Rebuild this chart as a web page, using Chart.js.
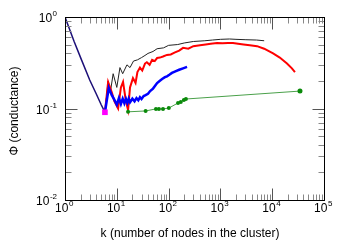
<!DOCTYPE html>
<html>
<head>
<meta charset="utf-8">
<script src="https://cdn.jsdelivr.net/npm/chart.js@4.4.1/dist/chart.umd.min.js"></script>
<style>
  body { margin: 0; background: #fff; }
  #wrap { width: 349px; height: 244px; }
</style>
</head>
<body>
<div id="wrap"><canvas id="chart" width="349" height="244"></canvas></div>
<script>
// Axis ticks (decades) and their exponent labels
const xTickValues = [1, 10, 100, 1000, 10000, 100000];
const xTickExps = ['0', '1', '2', '3', '4', '5'];
const yTickValues = [0.01, 0.1, 1];
const yTickExps = ['-2', '-1', '0'];
const minorMultipliers = [2, 3, 4, 5, 6, 7, 8, 9];

// Navy segment from k=1 down to the minimum
const navyK = [1, 1.5, 2, 3, 4, 5, 5.9];
const navyPhi = [1, 0.54, 0.36, 0.205, 0.145, 0.11, 0.091];

// Black series
const blackK = [5.9, 6.8, 7.5, 8.5, 10, 11.5, 13, 15.7, 18, 21, 25, 30, 35, 40, 50, 60, 80, 100, 150, 200, 300, 500, 700, 1000, 1500, 2000, 3000, 5000, 7000];
const blackPhi = [0.091, 0.20, 0.15, 0.24, 0.17, 0.28, 0.24, 0.30, 0.28, 0.33, 0.34, 0.36, 0.38, 0.40, 0.42, 0.45, 0.46, 0.49, 0.50, 0.52, 0.54, 0.55, 0.56, 0.57, 0.575, 0.57, 0.565, 0.56, 0.55];

// Red series
const redK = [5.9, 6.8, 8, 9, 10.6, 12, 13.2, 15, 16.5, 18, 20.5, 23, 25, 28, 31, 35, 38, 43, 48, 54, 60, 68, 78, 93, 110, 133, 160, 190, 240, 300, 404, 520, 650, 860, 1100, 1400, 1750, 2200, 2800, 3700, 5100, 7000, 10400, 14000, 19300, 24000, 27500];
const redPhi = [0.091, 0.195, 0.15, 0.12, 0.10, 0.17, 0.195, 0.12, 0.096, 0.17, 0.215, 0.19, 0.25, 0.28, 0.26, 0.31, 0.32, 0.30, 0.34, 0.33, 0.356, 0.36, 0.37, 0.385, 0.39, 0.41, 0.43, 0.46, 0.45, 0.48, 0.49, 0.50, 0.51, 0.52, 0.515, 0.52, 0.52, 0.51, 0.50, 0.49, 0.48, 0.45, 0.40, 0.36, 0.31, 0.275, 0.25];

// Blue series
const blueK = [5.9, 7, 8, 9, 10, 11, 12, 13, 14, 15, 16, 17, 18, 20, 22, 24, 26, 28, 30, 33, 36, 40, 44, 50, 54, 60, 67, 75, 85, 93, 105, 116, 135, 160, 190, 227];
const bluePhi = [0.091, 0.168, 0.14, 0.124, 0.11, 0.13, 0.112, 0.128, 0.114, 0.127, 0.115, 0.128, 0.117, 0.128, 0.12, 0.13, 0.123, 0.133, 0.127, 0.137, 0.14, 0.145, 0.155, 0.165, 0.175, 0.19, 0.20, 0.21, 0.22, 0.225, 0.235, 0.245, 0.255, 0.265, 0.275, 0.285];

// Green series (with markers)
const greenK = [16.5, 36, 57, 65, 78, 101, 152, 172, 197, 216, 34400];
const greenPhi = [0.092, 0.094, 0.099, 0.099, 0.099, 0.101, 0.115, 0.118, 0.124, 0.127, 0.155];

// Magenta minimum marker
const minK = [5.9];
const minPhi = [0.091];

function toPoints(ks, phis) {
    return ks.map((k, i) => ({ x: k, y: phis[i] }));
}

function tickLine(ctx, x1, y1, x2, y2, color) {
    ctx.strokeStyle = color;
    ctx.lineWidth = 1;
    ctx.setLineDash([]);
    ctx.globalAlpha = 1;
    ctx.beginPath();
    ctx.moveTo(x1, y1);
    ctx.lineTo(x2, y2);
    ctx.stroke();
}

// Draws gnuplot-like frame, inward ticks and 10^n labels
const gnuplotAxes = {
    id: 'gnuplotAxes',
    afterDraw(chart) {
        const ctx = chart.ctx;
        const a = chart.chartArea;
        const x = chart.scales.x, y = chart.scales.y;
        const L = Math.round(a.left) + 0.5, R = Math.round(a.right) + 0.5;
        const T = Math.round(a.top) + 0.5, B = Math.round(a.bottom) + 0.5;
        const majorColor = '#555';
        const minorColor = '#888';
        ctx.save();

        // x ticks, bottom and top
        xTickValues.forEach(v => {
            const px = Math.round(x.getPixelForValue(v)) + 0.5;
            tickLine(ctx, px, B, px, B - 12, majorColor);
            tickLine(ctx, px, T, px, T + 12, majorColor);
            if (v < 100000) {
                minorMultipliers.forEach(m => {
                    const mx = Math.round(x.getPixelForValue(v * m)) + 0.5;
                    tickLine(ctx, mx, B, mx, B - 6, minorColor);
                    tickLine(ctx, mx, T, mx, T + 6, minorColor);
                });
            }
        });
        // y ticks, left and right
        yTickValues.forEach(v => {
            const py = Math.round(y.getPixelForValue(v)) + 0.5;
            tickLine(ctx, L, py, L + 12, py, majorColor);
            tickLine(ctx, R, py, R - 12, py, majorColor);
            if (v < 1) {
                minorMultipliers.forEach(m => {
                    const my = Math.round(y.getPixelForValue(v * m)) + 0.5;
                    tickLine(ctx, L, my, L + 6, my, minorColor);
                    tickLine(ctx, R, my, R - 6, my, minorColor);
                });
            }
        });

        // frame
        ctx.strokeStyle = '#000';
        ctx.lineWidth = 1;
        ctx.strokeRect(L, T, R - L, B - T);

        // tick labels
        ctx.fillStyle = '#000';
        ctx.textBaseline = 'alphabetic';
        const big = '12px "Liberation Sans", Arial, sans-serif';
        const small = '8px "Liberation Sans", Arial, sans-serif';

        xTickValues.forEach((v, i) => {
            const px = x.getPixelForValue(v);
            ctx.font = big;
            const w1 = ctx.measureText('10').width;
            ctx.font = small;
            const w2 = ctx.measureText(xTickExps[i]).width;
            const left = px - (w1 + w2) / 2 - 1;
            ctx.textAlign = 'left';
            ctx.font = big;
            ctx.fillText('10', left, a.bottom + 12);
            ctx.font = small;
            ctx.fillText(xTickExps[i], left + w1 + 0.5, a.bottom + 6);
        });

        yTickValues.forEach((v, i) => {
            const py = y.getPixelForValue(v);
            ctx.font = small;
            const w2 = ctx.measureText(yTickExps[i]).width;
            const right = a.left - 8;
            ctx.textAlign = 'left';
            ctx.fillText(yTickExps[i], right - w2, py - 1);
            ctx.font = big;
            ctx.textAlign = 'right';
            ctx.fillText('10', right - w2 - 0.5, py + 5);
        });

        // axis titles
        ctx.font = big;
        ctx.textAlign = 'center';
        ctx.fillText('k (number of nodes in the cluster)', 190, 237);
        ctx.save();
        ctx.translate(18, 111);
        ctx.rotate(-Math.PI / 2);
        ctx.fillText('\u03A6 (conductance)', 0, 0);
        ctx.restore();

        ctx.restore();
    }
};

new Chart(document.getElementById('chart'), {
    type: 'line',
    data: {
        datasets: [
            {
                data: toPoints(minK, minPhi),
                showLine: false,
                pointStyle: 'rect',
                pointRadius: 4,
                backgroundColor: '#ff00ff',
                borderColor: '#ff00ff',
                borderWidth: 0
            },
            {
                data: toPoints(navyK, navyPhi),
                borderColor: '#1c0f78',
                borderWidth: 1.5,
                pointRadius: 0
            },
            {
                data: toPoints(greenK, greenPhi),
                borderColor: '#4aa04a',
                borderWidth: 1,
                pointRadius: [2, 2, 2, 2, 2, 2, 2, 2, 2, 2, 2.5],
                pointBackgroundColor: '#0a8a0a',
                pointBorderColor: '#0a8a0a',
                pointBorderWidth: 0
            },
            {
                data: toPoints(blueK, bluePhi),
                borderColor: '#0000ff',
                borderWidth: 2.5,
                pointRadius: 0
            },
            {
                data: toPoints(redK, redPhi),
                borderColor: '#ff0000',
                borderWidth: 2,
                pointRadius: 0
            },
            {
                data: toPoints(blackK, blackPhi),
                borderColor: '#222',
                borderWidth: 1,
                pointRadius: 0
            }
        ]
    },
    options: {
        responsive: false,
        devicePixelRatio: 1,
        animation: false,
        layout: { padding: { left: 65, top: 17, right: 25, bottom: 44 } },
        elements: { line: { tension: 0 } },
        plugins: {
            legend: { display: false },
            tooltip: { enabled: false }
        },
        scales: {
            x: { type: 'logarithmic', min: 1, max: 100000, display: false },
            y: { type: 'logarithmic', min: 0.01, max: 1, display: false }
        }
    },
    plugins: [gnuplotAxes]
});
</script>
</body>
</html>
